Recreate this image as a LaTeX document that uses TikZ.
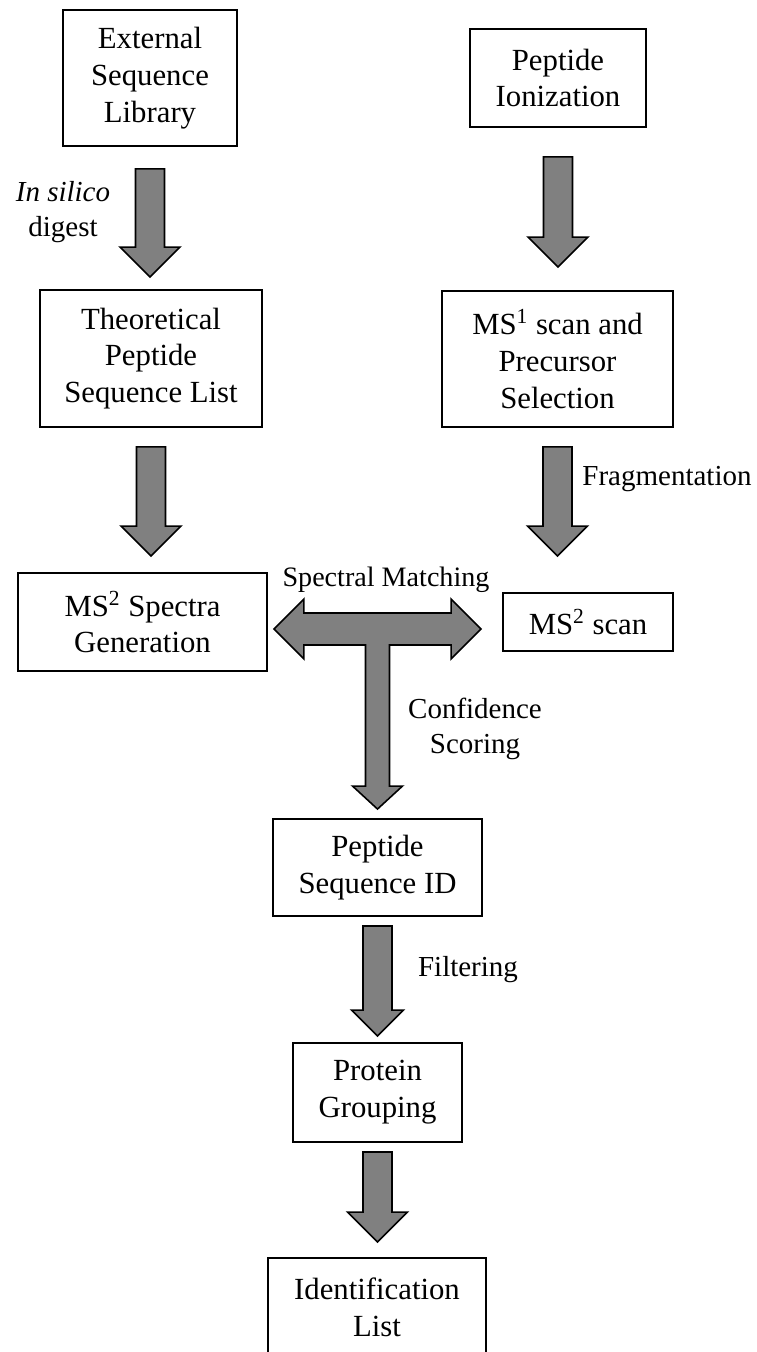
\documentclass[tikz,border=0pt]{standalone}
\usepackage{fontspec}
\setmainfont{Liberation Serif}
\usepackage{tikz}
\usetikzlibrary{calc}
\definecolor{arrowgray}{HTML}{808080}

% block arrow pointing down: [head size]{start}{tip}
\newcommand{\fatdown}[3][30]{%
  \draw[fatarrow] ($(#2)+(-14.5,0)$) -- ($(#2)+(14.5,0)$)
    -- ($(#2 |- #3)+(14.5,-#1)$) -- ($(#2 |- #3)+(#1,-#1)$)
    -- (#2 |- #3) -- ($(#2 |- #3)+(-#1,-#1)$)
    -- ($(#2 |- #3)+(-14.5,-#1)$) -- cycle;}

\begin{document}
\begin{tikzpicture}[x=0.02cm, y=-0.02cm,
  font=\fontsize{17.5}{21}\selectfont,
  stepbox/.style={draw, line width=1.1pt, align=center, inner sep=0pt},
  fatarrow/.style={draw, fill=arrowgray, line width=0.9pt, line join=miter},
  note/.style={align=center, font=\fontsize{16.5}{20}\selectfont}]
  \useasboundingbox (0,0) rectangle (757,1352);
  % left column
  \node[stepbox, minimum width=3.48cm, minimum height=2.72cm] (ext) at (150,78) {External\\Sequence\\Library};
  \node[stepbox, minimum width=4.44cm, minimum height=2.74cm] (theo) at (151,358.5) {Theoretical\\Peptide\\Sequence List};
  \node[stepbox, minimum width=4.98cm, minimum height=1.96cm] (msgen) at (142.5,622) {MS\textsuperscript{2} Spectra\\Generation};
  % right column
  \node[stepbox, minimum width=3.52cm, minimum height=1.96cm] (ion) at (558,78) {Peptide\\Ionization};
  \node[stepbox, minimum width=4.62cm, minimum height=2.72cm] (ms1) at (557.5,359) {MS\textsuperscript{1} scan and\\Precursor\\Selection};
  \node[stepbox, minimum width=3.40cm, minimum height=1.16cm] (msscan) at (588,622) {MS\textsuperscript{2} scan};
  % centre column
  \node[stepbox, minimum width=4.18cm, minimum height=1.94cm] (pepid) at (377.5,867.5) {Peptide\\Sequence ID};
  \node[stepbox, minimum width=3.38cm, minimum height=1.98cm] (prot) at (377.5,1092.5) {Protein\\Grouping};
  \node[stepbox, minimum width=4.36cm, minimum height=1.98cm] (idlist) at (377,1307.5) {Identification\\List};

  % arrow ends
  \coordinate (a1s) at ($(ext.south)+(0,22)$);
  \coordinate (a1e) at ($(theo.north)+(0,-12)$);
  \coordinate (a2s) at ($(theo.south)+(0,19)$);
  \coordinate (a2e) at ($(msgen.north)+(0,-16)$);
  \coordinate (a3s) at ($(ion.south)+(0,29)$);
  \coordinate (a3e) at ($(ms1.north)+(0,-23)$);
  \coordinate (a4s) at ($(ms1.south)+(0,19)$);
  \coordinate (a4e) at ($(msscan.north)+(0,-36)$);
  \coordinate (a6s) at ($(pepid.south)+(0,9)$);
  \coordinate (a6e) at ($(prot.north)+(0,-6)$);
  \coordinate (a7s) at ($(prot.south)+(0,9)$);
  \coordinate (a7e) at ($(idlist.north)+(0,-15)$);
  \coordinate (ml) at ($(msgen.east)+(6,7)$);
  \coordinate (mr) at ($(msscan.west)+(-21,7)$);
  \coordinate (mt) at ($(pepid.north)+(0,-9)$);

  \fatdown{a1s}{a1e}
  \fatdown{a2s}{a2e}
  \fatdown{a3s}{a3e}
  \fatdown{a4s}{a4e}
  \fatdown[26]{a6s}{a6e}
  \fatdown{a7s}{a7e}
  % double arrow with stem
  \draw[fatarrow] (ml) -- ($(ml)+(30,-30)$) -- ($(ml)+(30,-16)$)
    -- ($(mr)+(-30,-16)$) -- ($(mr)+(-30,-30)$) -- (mr)
    -- ($(mr)+(-30,30)$) -- ($(mr)+(-30,16)$)
    -- ($(mt |- ml)+(12,16)$) -- ($(mt)+(12,-23)$) -- ($(mt)+(25,-23)$)
    -- (mt) -- ($(mt)+(-25,-23)$) -- ($(mt)+(-12,-23)$)
    -- ($(mt |- ml)+(-12,16)$) -- ($(ml)+(30,16)$) -- ($(ml)+(30,30)$) -- cycle;

  % labels
  \node[note] (insilico) at (63,212) {\textit{In silico}\\digest};
  \node[note] (frag) at (667,479) {Fragmentation};
  \node[note, font=\fontsize{16}{19}\selectfont] (specmatch) at (386,580) {Spectral Matching};
  \node[note] (confscore) at (475,729) {Confidence\\Scoring};
  \node[note] (filter) at (468,970) {Filtering};
\end{tikzpicture}
\end{document}
